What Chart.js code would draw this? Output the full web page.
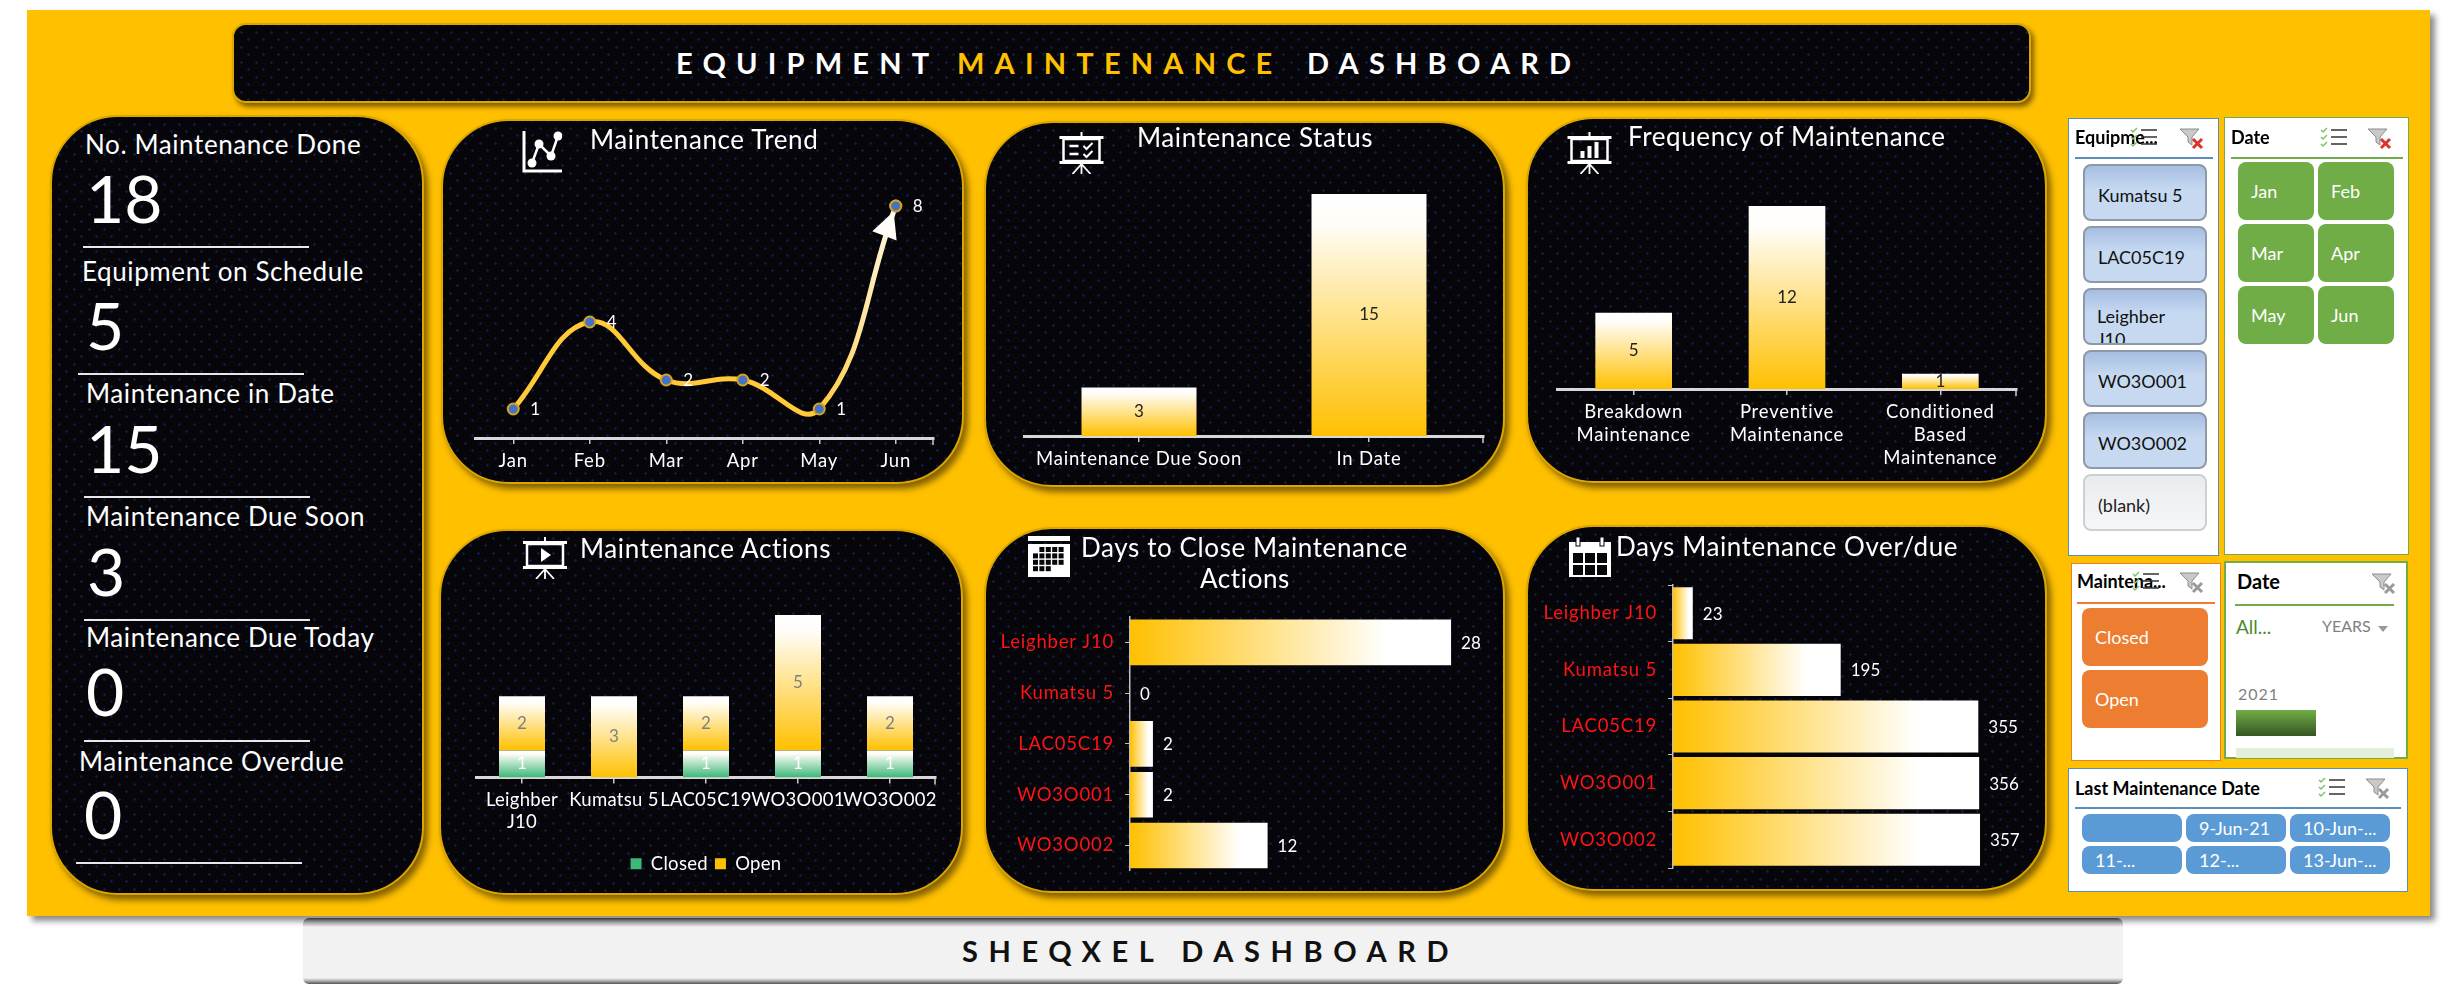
<!DOCTYPE html>
<html>
<head>
<meta charset="utf-8">
<title>Equipment Maintenance Dashboard</title>
<script src="https://cdn.jsdelivr.net/npm/chart.js@4/dist/chart.umd.min.js"></script>
<style>
html, body { margin: 0; padding: 0; background: #fff; width: 2460px; height: 998px; overflow: hidden; }
body { position: relative; font-family: Lato, sans-serif; }
.abs { position: absolute; }
.panel { left: 27px; top: 10px; width: 2403px; height: 906px; background: #ffc000; box-shadow: 5px 5px 6px #8c8c8c; }
.card {
    position: absolute; box-sizing: border-box; border-radius: 68px; border: 2px solid #dca600;
    box-shadow: 4px 5px 6px rgba(90, 65, 0, 0.75);
    background-color: #05050a;
    background-image: radial-gradient(circle, #111c40 1px, transparent 1.5px), radial-gradient(circle, #111c40 1px, transparent 1.5px);
    background-size: 15px 15px; background-position: 0 0, 7px 7px;
}
.card canvas { position: absolute; left: -1px; top: -2px; }
.t { position: absolute; white-space: nowrap; line-height: 1; transform: translateY(-50%); margin-top: -1.5px; color: #fff; }
.ctitle { font-size: 26px; letter-spacing: 0.6px; }
.klabel { font-size: 26px; letter-spacing: 0.6px; }
.kvalue { font-size: 66px; font-weight: 400; margin-top: -3px; }
.kline { position: absolute; height: 1.5px; background: #e8e8e8; width: 226px; }
.slicer { position: absolute; box-sizing: border-box; background: #fff; border: 1.5px solid #5b8fb9; }
.div { position: absolute; height: 1.5px; }
.btn { position: absolute; box-sizing: border-box; overflow: hidden; border-radius: 8px; color: #fff; font-size: 18px; }
.btn span { position: absolute; white-space: nowrap; line-height: 22px; }
.stitle { color: #000; font-weight: 700; font-size: 18px; }
</style>
</head>
<body>
<div class="abs panel"></div>
<div class="abs" style="left:232px;top:23px;width:1799px;height:80px;box-sizing:border-box;border-radius:14px;border:2px solid #dca600;box-shadow:3px 4px 5px rgba(90,65,0,.75);background-color:#05050a;background-image:radial-gradient(circle,#111c40 1px,transparent 1.5px),radial-gradient(circle,#111c40 1px,transparent 1.5px);background-size:15px 15px;background-position:0 0,7px 7px;"></div>
<div class="t" style="left:676px;top:63px;font-size:29px;font-weight:700;letter-spacing:10.2px;">EQUIPMENT</div>
<div class="t" style="left:957px;top:63px;font-size:29px;font-weight:700;letter-spacing:10.2px;color:#ffc000;">MAINTENANCE</div>
<div class="t" style="left:1307px;top:63px;font-size:29px;font-weight:700;letter-spacing:10.2px;">DASHBOARD</div>

<div class="abs" style="left:303px;top:918px;width:1820px;height:66px;border-radius:6px;background:linear-gradient(#333 0,#9a9a9a 4px,#f2f2f2 9px,#f2f2f2 60px,#aaa 63px,#555 66px);"></div>
<div class="t" style="left:962px;top:951px;font-size:29px;font-weight:700;letter-spacing:10.6px;color:#111;">SHEQXEL DASHBOARD</div>

<div id="root"></div>

<script>
// chart data
const trendLabels = ['Jan', 'Feb', 'Mar', 'Apr', 'May', 'Jun'];
const trendValues = [1, 4, 2, 2, 1, 8];

const statusLabels = ['Maintenance Due Soon', 'In Date'];
const statusValues = [3, 15];

const freqLabels = [['Breakdown', 'Maintenance'], ['Preventive', 'Maintenance'], ['Conditioned', 'Based', 'Maintenance']];
const freqValues = [5, 12, 1];

const actionLabels = [['Leighber', 'J10'], 'Kumatsu 5', 'LAC05C19', 'WO3O001', 'WO3O002'];
const actionClosed = [1, 0, 1, 1, 1];
const actionOpen = [2, 3, 2, 5, 2];

const closeLabels = ['Leighber J10', 'Kumatsu 5', 'LAC05C19', 'WO3O001', 'WO3O002'];
const closeValues = [28, 0, 2, 2, 12];

const overdueLabels = ['Leighber J10', 'Kumatsu 5', 'LAC05C19', 'WO3O001', 'WO3O002'];
const overdueValues = [23, 195, 355, 356, 357];

// KPI column
const kpiLabels = ['No. Maintenance Done', 'Equipment on Schedule', 'Maintenance in Date', 'Maintenance Due Soon', 'Maintenance Due Today', 'Maintenance Overdue'];
const kpiValues = [18, 5, 15, 3, 0, 0];

// slicer contents
const equipmentItems = ['Kumatsu 5', 'LAC05C19', 'Leighber J10', 'WO3O001', 'WO3O002', '(blank)'];
const monthItems = ['Jan', 'Feb', 'Mar', 'Apr', 'May', 'Jun'];
const statusItems = ['Closed', 'Open'];
const lastDateItems = ['', '9-Jun-21', '10-Jun-...', '11-...', '12-...', '13-Jun-...'];

const GOLD = '#ffc000';
const TICK_FONT = { family: 'Lato', size: 18.5, lineHeight: 1.2 };
const root = document.getElementById('root');

function el(cls, css, html) {
    const d = document.createElement('div');
    d.className = cls;
    d.style.cssText = css;
    if (html !== undefined) d.innerHTML = html;
    root.appendChild(d);
    return d;
}

function card(x, y, x2, y2) {
    return el('card', `left:${x - 1}px;top:${y}px;width:${x2 - x + 2}px;height:${y2 - y}px;`);
}

// KPI panel
card(51, 115, 423, 895);
const kpiLayout = [
    [85, 145, 86, 201, 83, 246], [82, 272, 86, 328, 78, 373], [86, 394, 86, 451, 84, 496],
    [86, 517, 87, 574, 84, 619], [86, 638, 86, 694, 84, 740], [79, 762, 84, 817, 76, 862]
];
kpiLabels.forEach((label, i) => {
    const p = kpiLayout[i];
    el('t klabel', `left:${p[0]}px;top:${p[1]}px;`, label);
    el('t kvalue', `left:${p[2]}px;top:${p[3]}px;`, kpiValues[i]);
    el('kline', `left:${p[4]}px;top:${p[5]}px;`);
});

// icons
const svg = (x, y, w, h, vb, body) => el('abs', `left:${x}px;top:${y}px;width:${w}px;height:${h}px;`,
    `<svg width="${w}" height="${h}" viewBox="${vb}" xmlns="http://www.w3.org/2000/svg">${body}</svg>`);

const board = inner => `<rect x="0" y="6" width="44" height="3" fill="#fff"/><rect x="21" y="2" width="2" height="5" fill="#fff"/>
    <rect x="4" y="9" width="36" height="22" fill="none" stroke="#fff" stroke-width="2.5"/><rect x="0" y="31" width="44" height="3" fill="#fff"/>
    <path d="M22 34V44M22 34L13 44M22 34L31 44" stroke="#fff" stroke-width="1.8" fill="none"/>${inner}`;

function calGrid(x0, y0, cols, rows, s, g, last) {
    let out = '';
    for (let r = 0; r < rows; r++) for (let c = 0; c < cols; c++) {
        if (r === 0 && c < cols - last[0]) continue;
        if (r === rows - 1 && c >= last[1]) continue;
        out += `<rect x="${x0 + c * (s + g)}" y="${y0 + r * (s + g)}" width="${s}" height="${s}" fill="#05050a"/>`;
    }
    return out;
}

function drawIcons() {
    svg(522, 131, 40, 42, '0 0 40 42', `<path d="M2 0V40H40" fill="none" stroke="#fff" stroke-width="3"/>
        <path d="M10 32L17 13L29 25L36 5" fill="none" stroke="#fff" stroke-width="2.5"/>
        <circle cx="10" cy="32" r="4.5" fill="#fff"/><circle cx="17" cy="13" r="4.5" fill="#fff"/><circle cx="29" cy="25" r="4.5" fill="#fff"/><circle cx="36" cy="5" r="4.5" fill="#fff"/>`);
    svg(1059, 130, 45, 44, '0 0 44 44', board(`<path d="M10 16H19M10 24H19" stroke="#fff" stroke-width="2.5"/><path d="M24 16L27 19L33 13M24 24L27 27L33 21" stroke="#fff" stroke-width="2" fill="none"/>`));
    svg(1567, 130, 45, 44, '0 0 44 44', board(`<rect x="13" y="21" width="4" height="7" fill="#fff"/><rect x="20" y="16" width="4" height="12" fill="#fff"/><rect x="27" y="12" width="4" height="16" fill="#fff"/>`));
    svg(523, 535, 44, 44, '0 0 44 44', board(`<path d="M18 13L28 20L18 27Z" fill="#fff"/>`));
    // calendars
    svg(1028, 536, 42, 41, '0 0 42 41', `<rect x="0" y="0" width="42" height="5" fill="#fff"/><rect x="0" y="8" width="42" height="33" fill="#fff"/>` + calGrid(5, 11, 5, 4, 5, 1.4, [4, 3]));
    svg(1569, 537, 42, 40, '0 0 42 40', `<rect x="0" y="5" width="42" height="35" fill="#fff"/><rect x="7" y="0" width="4" height="9" fill="#fff" stroke="#05050a"/><rect x="31" y="0" width="4" height="9" fill="#fff" stroke="#05050a"/>` + calGrid(4, 16, 3, 3, 10, 2, [3, 3]));
}

function multiIcon(x, y, lineColor) {
    const lc = lineColor || '#333';
    svg(x, y, 27, 22, '0 0 27 22', `<path d="M1 3L3 5L7 1M1 10L3 12L7 8M1 17L3 19L7 15" stroke="#7cc36a" stroke-width="1.5" fill="none"/>
        <path d="M11 3H27M11 10H27M11 17H27" stroke="${lc}" stroke-width="1.4"/>`);
}
function funnelIcon(x, y, xColor) {
    svg(x, y, 25, 23, '0 0 25 23', `<path d="M1 2H20L13 10V18L9 15V10Z" fill="#c9c9c9" stroke="#8c8c8c"/>
        <path d="M14 12L23 21M23 12L14 21" stroke="${xColor}" stroke-width="3"/>`);
}

function slicerBox(x, y, x2, y2, color, title, titleX, titleY, divX, divX2, divY, size, bw) {
    el('slicer', `left:${x}px;top:${y}px;width:${x2 - x}px;height:${y2 - y}px;border-color:${color};border-width:${bw || 1.5}px;`);
    el('t stitle', `left:${titleX}px;top:${titleY}px;font-size:${size || 18}px;`, title);
    el('div', `left:${divX}px;top:${divY}px;width:${divX2 - divX}px;background:${color};`);
}

function button(x, y, w, h, text, css, color) {
    const top = Math.round(h / 2 - 11);
    el('btn', `left:${x}px;top:${y}px;width:${w}px;height:${h}px;${css}`, `<span style="left:13px;top:${top}px;color:${color || '#fff'}">${text}</span>`);
}

function drawSlicers() {
    // equipment
    slicerBox(2068, 118, 2219, 556, '#5b8fb9', 'Equipme...', 2075, 138, 2075, 2213, 157);
    const blueCss = 'background:linear-gradient(#a6bee2,#c6d9f1 45%);border:2px solid #8e99a8;';
    equipmentItems.forEach((name, i) => {
        const y = 164 + i * 62;
        if (name === 'Leighber J10') {
            el('btn', `left:2083px;top:${y}px;width:124px;height:57px;color:#111;${blueCss}`,
                '<span style="left:12px;top:15px;white-space:normal;width:90px;line-height:23px;">Leighber J10</span>');
        } else if (name === '(blank)') {
            button(2083, y, 124, 57, name, 'background:linear-gradient(#e9ecef,#f5f6f7);border:2px solid #ccd0d4;', '#222');
        } else {
            button(2083, y, 124, 57, name, blueCss, '#111');
        }
    });
    multiIcon(2130, 127); funnelIcon(2179, 127, '#d9332a');

    // months
    slicerBox(2224, 117, 2409, 555, '#70ad47', 'Date', 2231, 138, 2231, 2403, 157);
    monthItems.forEach((m, i) => {
        button(2238 + (i % 2) * 80, 162 + Math.floor(i / 2) * 62, 76, 58, m, 'background:#70ad47;');
    });
    multiIcon(2320, 127); funnelIcon(2367, 127, '#d9332a');

    // open / closed
    slicerBox(2071, 563, 2221, 761, '#ed7d31', 'Maintena...', 2077, 582, 2077, 2215, 602);
    statusItems.forEach((s, i) => button(2082, 608 + i * 62, 126, 58, s, 'background:#ed7d31;'));
    multiIcon(2132, 571); funnelIcon(2179, 571, '#9a9a9a');

    // timeline
    slicerBox(2224, 561, 2408, 759, '#70ad47', 'Date', 2237, 582, 2235, 2394, 604, 20, 2.5);
    el('t', 'left:2236px;top:627px;font-size:19px;color:#4e8a2c;', 'All...');
    el('t', 'left:2322px;top:627px;font-size:16px;color:#7f7f7f;', 'YEARS');
    el('abs', 'left:2378px;top:626px;width:0;height:0;border:5px solid transparent;border-top:6px solid #999;');
    el('t', 'left:2238px;top:695px;font-size:16px;color:#7f7f7f;letter-spacing:1px;', '2021');
    el('abs', 'left:2236px;top:710px;width:80px;height:26px;background:linear-gradient(#70ad47,#375623);');
    el('abs', 'left:2236px;top:748px;width:158px;height:10px;background:#e2efd9;');
    funnelIcon(2371, 572, '#9a9a9a');

    // last maintenance date
    slicerBox(2068, 768, 2408, 892, '#5b8fb9', 'Last Maintenance Date', 2075, 789, 2075, 2401, 807);
    lastDateItems.forEach((d, i) => {
        button(2082 + (i % 3) * 104, 814 + Math.floor(i / 3) * 32, 100, 28, d, 'background:#5b9bd5;');
    });
    multiIcon(2318, 777); funnelIcon(2365, 777, '#9a9a9a');
}

// widen the axis text a bit, the original font is a wide one
// (less on the stacked chart, its labels run into each other otherwise)
Chart.register({
    id: 'wideText',
    beforeDraw(chart) { chart.ctx.letterSpacing = chart.data.datasets.length > 1 ? '0.3px' : '0.8px'; }
});

// Chart.js has no data label option of its own, so draw them here
const labelPlugin = {
    id: 'valueLabels',
    afterDatasetsDraw(chart) {
        const opt = chart.options.plugins.valueLabels;
        if (!opt) return;
        const ctx = chart.ctx;
        ctx.save();
        ctx.letterSpacing = '0px';
        ctx.font = '17px Lato';
        chart.data.datasets.forEach((ds, di) => {
            const meta = chart.getDatasetMeta(di);
            meta.data.forEach((bar, i) => {
                const v = ds.data[i];
                if (opt.skipZero && !v) return;
                ctx.fillStyle = opt.colors[di];
                ctx.textBaseline = 'middle';
                if (opt.mode === 'center') {
                    ctx.textAlign = 'center';
                    ctx.fillText(v, bar.x, (bar.y + bar.base) / 2);
                } else if (opt.mode === 'right') {
                    ctx.textAlign = 'left';
                    ctx.fillText(v, bar.x + opt.gap, bar.y + 1);
                }
            });
        });
        if (opt.endTick) {
            const a = chart.chartArea;
            ctx.strokeStyle = '#d0d0d0';
            ctx.lineWidth = 1.5;
            ctx.beginPath();
            ctx.moveTo(a.right - 1, a.bottom);
            ctx.lineTo(a.right - 1, a.bottom + 7);
            ctx.stroke();
        }
        ctx.restore();
    }
};

// white arrow head sitting on the last point of the trend line
const arrowPlugin = {
    id: 'arrowHead',
    afterDatasetDraw(chart) {
        const pts = chart.getDatasetMeta(0).data;
        const end = pts[pts.length - 1];
        const prev = end.cp1x !== undefined ? { x: end.cp1x, y: end.cp1y } : pts[pts.length - 2];
        const ang = Math.atan2(end.y - prev.y, end.x - prev.x);
        const ctx = chart.ctx;
        const tipX = end.x - Math.cos(ang) * 6, tipY = end.y - Math.sin(ang) * 6;
        ctx.save();
        ctx.translate(tipX, tipY);
        ctx.rotate(ang);
        ctx.fillStyle = '#fffdf6';
        ctx.beginPath();
        ctx.moveTo(0, 0);
        ctx.lineTo(-26, -13);
        ctx.lineTo(-26, 13);
        ctx.closePath();
        ctx.fill();
        ctx.restore();
        // point goes back on top of the head
        ctx.save();
        ctx.fillStyle = '#4472c4';
        ctx.strokeStyle = '#d8a520';
        ctx.lineWidth = 2;
        ctx.beginPath();
        ctx.arc(end.x, end.y, 5.5, 0, Math.PI * 2);
        ctx.fill();
        ctx.stroke();
        ctx.restore();
    }
};

function vertGrad(color) {
    return function(c) {
        const { chart, dataIndex, datasetIndex } = c;
        if (!chart.chartArea || dataIndex === undefined) return color;
        const sc = chart.scales.y;
        let base = 0;
        for (let i = 0; i < datasetIndex; i++) base += chart.data.datasets[i].data[dataIndex];
        const val = chart.data.datasets[datasetIndex].data[dataIndex];
        const g = chart.ctx.createLinearGradient(0, sc.getPixelForValue(base + val), 0, sc.getPixelForValue(base));
        g.addColorStop(0, '#ffffff');
        g.addColorStop(0.12, '#fffdf8');
        g.addColorStop(1, color);
        return g;
    };
}

function horizGrad(c) {
    const { chart, dataIndex, datasetIndex } = c;
    if (!chart.chartArea || dataIndex === undefined) return GOLD;
    const sc = chart.scales.x;
    const val = chart.data.datasets[datasetIndex].data[dataIndex];
    const g = chart.ctx.createLinearGradient(sc.getPixelForValue(0), 0, sc.getPixelForValue(val), 0);
    g.addColorStop(0, GOLD);
    g.addColorStop(0.8, '#ffffff');
    g.addColorStop(1, '#ffffff');
    return g;
}

function trendGrad(c) {
    const { chart } = c;
    if (!chart.chartArea) return GOLD;
    const a = chart.chartArea;
    const g = chart.ctx.createLinearGradient(a.left, 0, a.right, 0);
    g.addColorStop(0, '#ffc937');
    g.addColorStop(0.75, '#ffc937');
    g.addColorStop(0.93, '#fffdf6');
    g.addColorStop(1, '#ffffff');
    return g;
}

function categoryX(labels, xHeight, tickPad) {
    return {
        type: 'category', labels: labels, offset: true,
        grid: { offset: false, drawOnChartArea: false, drawTicks: true, tickLength: 6, color: '#c8c8c8', lineWidth: 1.5 },
        border: { color: '#d8d8d8', width: 3 },
        ticks: { color: '#fff', font: TICK_FONT, padding: tickPad, autoSkip: false, maxRotation: 0, minRotation: 0 },
        afterFit(s) { s.height = xHeight; }
    };
}

function hiddenValue(max) {
    return { display: false, min: 0, max: max, stacked: false };
}

function baseOptions(padding) {
    return {
        responsive: false, animation: false,
        layout: { padding: padding },
        plugins: { legend: { display: false }, tooltip: { enabled: false } }
    };
}

function makeCanvas(host, w, h) {
    const cv = document.createElement('canvas');
    cv.width = w; cv.height = h;
    cv.style.width = w + 'px'; cv.style.height = h + 'px';
    host.appendChild(cv);
    return cv;
}

function title(text, x, y) {
    el('t ctitle', `left:${x}px;top:${y}px;`, text);
}

function drawCharts() {
    // Maintenance Trend
    const c1 = card(442, 119, 963, 484);
    new Chart(makeCanvas(c1, 521, 365), {
        type: 'line',
        data: { labels: trendLabels, datasets: [{
            data: trendValues, borderColor: trendGrad, borderWidth: 5, tension: 0.42, fill: false,
            pointRadius: 5.5, pointBackgroundColor: '#4472c4', pointBorderColor: '#d8a520', pointBorderWidth: 2
        }] },
        options: Object.assign(baseOptions({ left: 33, right: 29, top: 87, bottom: 0 }), {
            clip: false,
            scales: { x: categoryX(trendLabels, 46, 6), y: hiddenValue(8) }
        }),
        plugins: [labelPlugin, arrowPlugin]
    }).options.plugins.valueLabels = { mode: 'right', gap: 17, colors: ['#fff'], endTick: true };

    // Maintenance Status
    const c2 = card(985, 121, 1504, 487);
    new Chart(makeCanvas(c2, 519, 366), {
        type: 'bar',
        data: { labels: statusLabels, datasets: [{ data: statusValues, backgroundColor: vertGrad(GOLD), barPercentage: 0.5, categoryPercentage: 1 }] },
        options: Object.assign(baseOptions({ left: 39, right: 20, top: 73, bottom: 0 }), {
            scales: { x: categoryX(statusLabels, 51, 6), y: hiddenValue(15) }
        }),
        plugins: [labelPlugin]
    }).options.plugins.valueLabels = { mode: 'center', colors: ['#222'], endTick: true };

    // Frequency of Maintenance
    const c3 = card(1527, 117, 2046, 483);
    const freqX = categoryX(freqLabels, 94, 6);
    freqX.ticks.font = { family: 'Lato', size: 18.5, lineHeight: 1.24 };
    new Chart(makeCanvas(c3, 519, 366), {
        type: 'bar',
        data: { labels: freqLabels, datasets: [{ data: freqValues, backgroundColor: vertGrad(GOLD), barPercentage: 0.5, categoryPercentage: 1 }] },
        options: Object.assign(baseOptions({ left: 30, right: 29, top: 89, bottom: 0 }), {
            scales: { x: freqX, y: hiddenValue(12) }
        }),
        plugins: [labelPlugin]
    }).options.plugins.valueLabels = { mode: 'center', colors: ['#222'], endTick: true };

    // Maintenance Actions, stacked
    const c4 = card(440, 529, 962, 895);
    const actX = categoryX(actionLabels, 70, 5);
    actX.stacked = true;
    const actY = hiddenValue(6);
    actY.stacked = true;
    const actOpts = baseOptions({ left: 36, right: 26, top: 86, bottom: 12 });
    actOpts.plugins.legend = {
        display: true, position: 'bottom',
        labels: { color: '#fff', font: TICK_FONT, boxWidth: 11, boxHeight: 11, padding: 7 }
    };
    actOpts.scales = { x: actX, y: actY };
    new Chart(makeCanvas(c4, 522, 366), {
        type: 'bar',
        data: { labels: actionLabels, datasets: [
            { label: 'Closed', data: actionClosed, backgroundColor: vertGrad('#3cb878'), barPercentage: 0.5, categoryPercentage: 1 },
            { label: 'Open', data: actionOpen, backgroundColor: vertGrad(GOLD), barPercentage: 0.5, categoryPercentage: 1 }
        ] },
        options: actOpts,
        plugins: [labelPlugin]
    }).options.plugins.valueLabels = { mode: 'center', skipZero: true, colors: ['#ffffff', '#7f7f7f'], endTick: true };

    // the two horizontal charts
    const hBar = (host, w, h, labels, values, max, pct, padding, yWidth, gridOffset) => new Chart(makeCanvas(host, w, h), {
        type: 'bar',
        data: { labels: labels, datasets: [{ data: values, backgroundColor: horizGrad, barPercentage: pct, categoryPercentage: 1 }] },
        options: Object.assign(baseOptions(padding), {
            indexAxis: 'y',
            scales: {
                x: hiddenValue(max),
                y: {
                    type: 'category', labels: labels,
                    grid: { offset: gridOffset, drawOnChartArea: false, tickLength: 5, color: '#bfbfbf' },
                    border: { color: '#bfbfbf', width: 1.5 },
                    ticks: { color: '#ff1414', font: TICK_FONT, padding: 11, autoSkip: false },
                    afterFit(s) { s.width = yWidth; }
                }
            }
        }),
        plugins: [labelPlugin]
    });

    const c5 = card(985, 527, 1504, 893);
    hBar(c5, 519, 366, closeLabels, closeValues, 30, 0.9, { left: 0, right: 30, top: 90, bottom: 22 }, 145, false)
        .options.plugins.valueLabels = { mode: 'right', gap: 10, colors: ['#fff'] };

    const c6 = card(1527, 525, 2046, 891);
    hBar(c6, 519, 366, overdueLabels, overdueValues, 400, 0.92, { left: 0, right: 29, top: 60, bottom: 23 }, 146, true)
        .options.plugins.valueLabels = { mode: 'right', gap: 10, colors: ['#fff'] };

    Chart.helpers.each(Chart.instances, c => c.update());

    title('Maintenance Trend', 590, 140);
    title('Maintenance Status', 1137, 138);
    title('Frequency of Maintenance', 1628, 137);
    title('Maintenance Actions', 580, 549);
    title('Days to Close Maintenance', 1081, 548);
    title('Actions', 1200, 579);
    title('Days Maintenance Over/due', 1616, 547);
}

drawCharts();
drawIcons();
drawSlicers();
</script>
</body>
</html>
